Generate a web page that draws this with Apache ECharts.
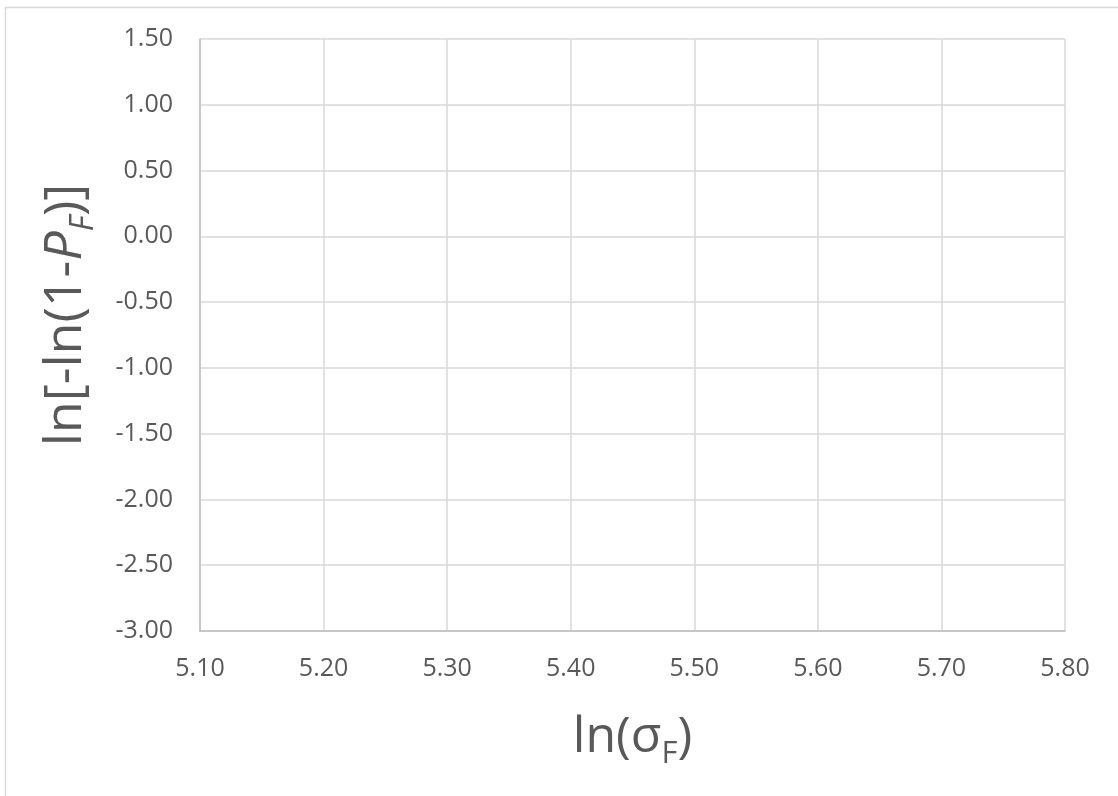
<!DOCTYPE html>
<html><head><meta charset="utf-8">
<script src="https://cdn.jsdelivr.net/npm/echarts@6/dist/echarts.min.js"></script>
<style>html,body{margin:0;padding:0;background:#fff}#c{width:1118px;height:796px}</style>
</head><body><div id="c"></div>
<script>
const xRange = [5.10, 5.80];
const xStep = 0.10;
const yRange = [-3.00, 1.50];
const yStep = 0.50;
const seriesPoints = [];
const xTitle = 'ln(σ{sub|F})';
const yTitle = 'ln[-ln(1-{it|P}{sub|F})]';

const chart = echarts.init(document.getElementById('c'));
const font = '"Open Sans", sans-serif';
chart.setOption({
  animation: false,
  backgroundColor: '#fff',
  graphic: [{type:'rect', shape:{x:5.5,y:7.5,width:1200,height:900}, style:{fill:'none', stroke:'#d9d9d9', lineWidth:1.5}, silent:true}],
  grid: {left:200, top:39, width:865, height:592, containLabel:false},
  xAxis: {
    type:'value', min:xRange[0], max:xRange[1], interval:xStep,
    name: xTitle, nameLocation:'middle', nameGap:74,
    nameTextStyle:{fontFamily:font, fontSize:50, color:'#595959',
      rich:{sub:{fontFamily:font, fontSize:31, color:'#595959', padding:[34,0,0,0]}}},
    axisLine:{show:true, onZero:false, lineStyle:{color:'#bfbfbf', width:1.5}},
    axisTick:{show:false},
    axisLabel:{margin:25, fontFamily:font, fontSize:25, color:'#595959', formatter:v=>v.toFixed(2)},
    splitLine:{show:true, lineStyle:{color:'#d9d9d9', width:1.5}}
  },
  yAxis: {
    type:'value', min:yRange[0], max:yRange[1], interval:yStep,
    name: yTitle, nameLocation:'middle', nameGap:100, nameRotate:90,
    nameTextStyle:{fontFamily:font, fontSize:52, color:'#595959', padding:[0,0,0,40],
      rich:{it:{fontFamily:font, fontSize:52, fontStyle:'italic', color:'#595959'},
            sub:{fontFamily:font, fontSize:32, fontStyle:'italic', color:'#595959', padding:[35,0,0,0]}}},
    axisLine:{show:true, onZero:false, lineStyle:{color:'#bfbfbf', width:1.5}},
    axisTick:{show:false},
    axisLabel:{margin:27, fontFamily:font, fontSize:25, color:'#595959', formatter:v=>v.toFixed(2)},
    splitLine:{show:true, lineStyle:{color:'#d9d9d9', width:1.5}}
  },
  series:[{type:'scatter', data:seriesPoints}]
});
</script></body></html>
